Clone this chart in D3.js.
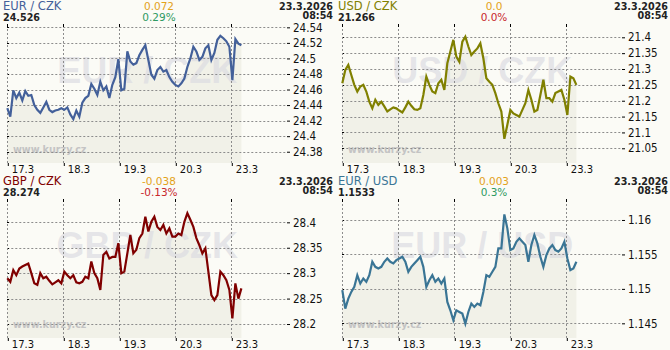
<!DOCTYPE html>
<html>
<head>
<meta charset="utf-8">
<script src="https://cdn.jsdelivr.net/npm/d3@7"></script>
<style>
  body { margin: 0; background: #fbfbf6; }
  svg { display: block; }
  text { font-family: "DejaVu Sans", Verdana, sans-serif; }
</style>
</head>
<body>
<div id="chart"></div>
<script>

// day labels on the time axis (weekend skipped)
var dayLabels = ["17.3", "18.3", "19.3", "20.3", "23.3"];
var dayTicks = [0, 1, 2, 3, 4];
var lastTime = 4.18;   // trading days elapsed at 23.3 08:54
var stamp = ["23.3.2026", "08:54"];

// currency pairs
var pairs = ["EUR / CZK", "USD / CZK", "GBP / CZK", "EUR / USD"];
var lastValues = ["24.526", "21.266", "28.274", "1.1533"];
var changes = ["0.072", "0.0", "-0.038", "0.003"];
var changePct = ["0.29%", "0.0%", "-0.13%", "0.3%"];

// y ticks and visible value range per pair
var yTicks = [
    [24.38, 24.4, 24.42, 24.44, 24.46, 24.48, 24.5, 24.52, 24.54],
    [21.05, 21.1, 21.15, 21.2, 21.25, 21.3, 21.35, 21.4],
    [28.2, 28.25, 28.3, 28.35, 28.4],
    [1.145, 1.15, 1.155, 1.16]
];
var yRanges = [
    [24.3655, 24.543],
    [21.0036, 21.4388],
    [28.1725, 28.4439],
    [1.14287, 1.1629]
];

// rates, evenly spaced over the week
var eurCzk = [24.436,24.425,24.459,24.449,24.456,24.446,24.458,24.452,24.453,24.440,24.434,24.430,24.437,24.444,24.434,24.431,24.433,24.434,24.436,24.434,
    24.437,24.428,24.422,24.433,24.425,24.443,24.449,24.452,24.467,24.461,24.453,24.470,24.459,24.464,24.449,24.466,24.476,24.499,24.459,24.461,
    24.509,24.496,24.492,24.494,24.504,24.511,24.517,24.498,24.479,24.474,24.485,24.489,24.483,24.485,24.476,24.470,24.466,24.464,24.468,24.474,
    24.489,24.500,24.515,24.509,24.498,24.502,24.513,24.517,24.498,24.507,24.524,24.529,24.526,24.522,24.515,24.472,24.525,24.519,24.517];

var usdCzk = [21.255,21.297,21.313,21.281,21.250,21.229,21.245,21.250,21.229,21.197,21.176,21.203,21.187,21.197,21.182,21.166,21.173,21.179,21.176,21.169,
    21.163,21.179,21.197,21.184,21.173,21.171,21.176,21.218,21.276,21.250,21.229,21.224,21.255,21.266,21.234,21.318,21.355,21.392,21.339,21.323,
    21.386,21.402,21.371,21.344,21.355,21.365,21.381,21.334,21.271,21.260,21.250,21.224,21.192,21.166,21.080,21.124,21.171,21.160,21.155,21.150,
    21.171,21.192,21.234,21.203,21.166,21.171,21.218,21.266,21.208,21.208,21.197,21.224,21.229,21.234,21.203,21.155,21.276,21.271,21.250];

var gbpCzk = [28.290,28.283,28.306,28.296,28.309,28.313,28.316,28.319,28.300,28.280,28.277,28.300,28.290,28.293,28.285,28.278,28.282,28.286,28.280,28.303,
    28.296,28.290,28.296,28.282,28.280,28.283,28.293,28.290,28.323,28.300,28.290,28.267,28.336,28.342,28.329,28.332,28.332,28.359,28.300,28.303,
    28.339,28.375,28.339,28.346,28.369,28.378,28.411,28.382,28.401,28.411,28.391,28.385,28.395,28.378,28.388,28.372,28.372,28.378,28.375,28.401,
    28.418,28.405,28.391,28.369,28.355,28.339,28.349,28.303,28.257,28.247,28.257,28.303,28.296,28.286,28.267,28.211,28.280,28.250,28.270];

var eurUsd = [1.14981,1.14714,1.14859,1.14956,1.15029,1.15199,1.15078,1.15150,1.15102,1.15199,1.15393,1.15320,1.15296,1.15320,1.15393,1.15442,1.15393,1.15369,1.15417,1.15442,
    1.15466,1.15393,1.15248,1.15320,1.15369,1.15417,1.15466,1.15320,1.15029,1.15126,1.15199,1.15102,1.15150,1.15078,1.15150,1.14811,1.14689,1.14544,1.14689,1.14665,
    1.14641,1.14495,1.14665,1.14786,1.14738,1.14786,1.14762,1.14956,1.15199,1.15175,1.15248,1.15320,1.15587,1.15587,1.16080,1.15879,1.15563,1.15587,1.15684,1.15733,
    1.15684,1.15636,1.15393,1.15636,1.15782,1.15660,1.15466,1.15320,1.15490,1.15587,1.15636,1.15563,1.15539,1.15587,1.15684,1.15442,1.15272,1.15296,1.15393];

var series = [eurCzk, usdCzk, gbpCzk, eurUsd];
var lineColors = ["#43609a", "#808000", "#800000", "#3a7595"];
var pctColors = ["#2e9a62", "#c8282c", "#c8282c", "#2e9a62"];


var panelW = 335, panelH = 175;
var plot = { left: 7.3, right: 287.3, top: 25, bottom: 163 };

var svg = d3.select("#chart").append("svg")
    .attr("width", 670)
    .attr("height", 350);

pairs.forEach(function(name, p) {
    var g = svg.append("g")
        .attr("transform", "translate(" + (p % 2) * panelW + "," + Math.floor(p / 2) * panelH + ")");

    var x = d3.scaleLinear().domain([0, 5]).range([plot.left, plot.right]);
    var y = d3.scaleLinear().domain(yRanges[p]).range([plot.bottom, plot.top]);

    var vals = series[p];
    var pts = vals.map(function(v, i) {
        return { t: i * lastTime / (vals.length - 1), v: v };
    });

    // area under the line
    var area = d3.area()
        .x(function(d) { return x(d.t); })
        .y0(plot.bottom)
        .y1(function(d) { return y(d.v); });

    g.append("path")
        .datum(pts)
        .attr("d", area)
        .attr("fill", "#f1f1e8");

    // big watermark
    g.append("text")
        .attr("x", (plot.left + plot.right) / 2)
        .attr("y", 83)
        .attr("text-anchor", "middle")
        .style("font-family", "'Liberation Sans', Arial, sans-serif")
        .style("font-weight", "bold")
        .style("font-size", "36px")
        .attr("fill", "#dcdce2")
        .attr("fill-opacity", 0.7)
        .text(name);

    g.append("text")
        .attr("x", 13)
        .attr("y", 153)
        .style("font-weight", "bold")
        .style("font-size", "9.6px")
        .attr("fill", "#c4c4c4")
        .text("www.kurzy.cz");

    // grid
    g.selectAll(".hgrid").data(yTicks[p]).enter().append("line")
        .attr("class", "hgrid")
        .attr("x1", plot.left).attr("x2", plot.right)
        .attr("y1", function(d) { return Math.round(y(d)) + 0.5; })
        .attr("y2", function(d) { return Math.round(y(d)) + 0.5; })
        .attr("stroke", "#8c8c8c")
        .attr("stroke-dasharray", "2,2");

    g.selectAll(".hcap").data(yTicks[p]).enter().append("line")
        .attr("x1", plot.left - 0.3).attr("x2", plot.left + 1.7)
        .attr("y1", function(d) { return Math.round(y(d)) + 0.5; })
        .attr("y2", function(d) { return Math.round(y(d)) + 0.5; })
        .attr("stroke", "#000");

    g.selectAll(".vgrid").data(dayTicks).enter().append("line")
        .attr("class", "vgrid")
        .attr("x1", function(d) { return Math.round(x(d)) + 0.5; })
        .attr("x2", function(d) { return Math.round(x(d)) + 0.5; })
        .attr("y1", plot.top).attr("y2", plot.bottom)
        .attr("stroke", "#8c8c8c")
        .attr("stroke-dasharray", "2,2");

    g.selectAll(".vcap").data(dayTicks).enter().append("line")
        .attr("x1", function(d) { return Math.round(x(d)) + 0.5; })
        .attr("x2", function(d) { return Math.round(x(d)) + 0.5; })
        .attr("y1", plot.top - 1).attr("y2", plot.top + 2)
        .attr("stroke", "#000");

    // axes
    var yAxis = d3.axisRight(y)
        .tickValues(yTicks[p])
        .tickSize(3)
        .tickPadding(3)
        .tickFormat(function(d) { return String(+d.toFixed(4)); });

    var ya = g.append("g")
        .attr("transform", "translate(" + (plot.right - 0.3) + ",0)")
        .call(yAxis);
    ya.select(".domain").remove();
    ya.selectAll("text")
        .style("font-family", "'DejaVu Sans Condensed', 'DejaVu Sans', sans-serif")
        .style("font-size", "11.5px")
        .attr("fill", "#111");

    var xAxis = d3.axisBottom(x)
        .tickValues(dayTicks)
        .tickSize(3)
        .tickPadding(0)
        .tickFormat(function(d, i) { return dayLabels[i]; });

    var xa = g.append("g")
        .attr("transform", "translate(0," + plot.bottom + ")")
        .call(xAxis);
    xa.select(".domain").remove();
    xa.selectAll(".tick line").attr("transform", "translate(0.5,0)");
    xa.selectAll("text")
        .attr("text-anchor", "start")
        .attr("dx", 4)
        .style("font-size", "10px")
        .attr("fill", "#111");

    // rate line
    var line = d3.line()
        .x(function(d) { return x(d.t); })
        .y(function(d) { return y(d.v); });

    g.append("path")
        .datum(pts)
        .attr("d", line)
        .attr("fill", "none")
        .attr("stroke", lineColors[p])
        .attr("stroke-width", 2.2)
        .attr("stroke-linejoin", "miter");

    // header
    g.append("text").attr("x", 3).attr("y", 10)
        .style("font-size", "11.5px")
        .attr("fill", lineColors[p]).text(name);
    g.append("text").attr("x", 3).attr("y", 21)
        .style("font-weight", "bold").style("font-size", "9.6px")
        .attr("fill", "#222").text(lastValues[p]);

    g.append("text").attr("x", 159).attr("y", 10).attr("text-anchor", "middle")
        .style("font-size", "10.5px")
        .attr("fill", "#e3a21a").text(changes[p]);
    g.append("text").attr("x", 159).attr("y", 20.5).attr("text-anchor", "middle")
        .style("font-size", "10.5px")
        .attr("fill", pctColors[p]).text(changePct[p]);

    g.append("text").attr("x", 333).attr("y", 9.5).attr("text-anchor", "end")
        .style("font-weight", "bold").style("font-size", "9.6px")
        .attr("fill", "#222").text(stamp[0]);
    g.append("text").attr("x", 333).attr("y", 19).attr("text-anchor", "end")
        .style("font-weight", "bold").style("font-size", "9.6px")
        .attr("fill", "#222").text(stamp[1]);
});

</script>
</body>
</html>
